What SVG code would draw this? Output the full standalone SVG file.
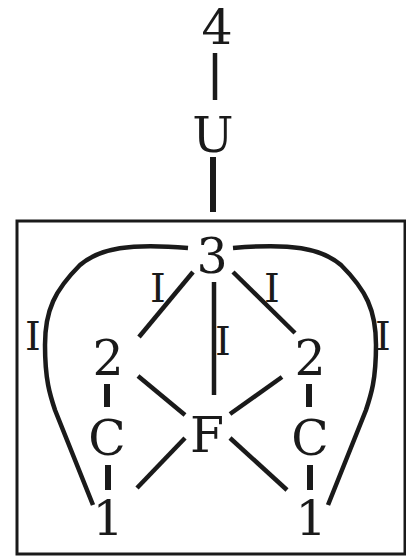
<svg xmlns="http://www.w3.org/2000/svg" width="406" height="556" viewBox="0 0 406 556">
<style>
.t{font-family:"DejaVu Serif","Liberation Serif",serif;font-size:49px;fill:#1a1a1a;text-anchor:middle}
.s{font-family:"DejaVu Serif","Liberation Serif",serif;font-size:40px;fill:#1a1a1a;text-anchor:middle}
.l{stroke:#1a1a1a;stroke-width:4.5;fill:none}
.k{stroke:#1a1a1a;stroke-width:6;fill:none}
</style>
<rect x="17" y="221" width="388" height="333" fill="none" stroke="#1a1a1a" stroke-width="3"/>
<g id="connectors">
<line class="l" x1="215" y1="53" x2="215" y2="100"/>
<line class="k" x1="213" y1="157" x2="213" y2="212"/>
<path class="l" d="M188,248 C130,243 100,248 80,265 C55,290 45,310 45,345 C45,380 50,395 55,410 L93,505"/>
<path class="l" d="M233,248 C291,243 321,248 341,265 C366,290 376,310 376,345 C376,380 371,395 366,410 L328,505"/>
<line class="l" x1="193" y1="272" x2="139" y2="337"/>
<line class="l" x1="233" y1="272" x2="295" y2="333"/>
<line class="l" x1="214" y1="282" x2="214" y2="395"/>
<line class="l" x1="138" y1="376" x2="185" y2="415"/>
<line class="l" x1="282" y1="377" x2="230" y2="414"/>
<line class="l" x1="185" y1="438" x2="137" y2="488"/>
<line class="l" x1="230" y1="438" x2="287" y2="490"/>
<line class="k" x1="107" y1="384" x2="107" y2="407"/>
<line class="k" x1="108" y1="465" x2="108" y2="490"/>
<line class="k" x1="309" y1="384" x2="309" y2="407"/>
<line class="k" x1="310" y1="465" x2="310" y2="490"/>
</g>
<g id="labels">
<text class="s" x="33" y="350">I</text>
<text class="s" x="383" y="350">I</text>
<text class="s" x="158" y="302">I</text>
<text class="s" x="272" y="302">I</text>
<text class="s" x="223" y="355">I</text>
</g>
<g id="n4"><text class="t" x="217" y="44">4</text></g>
<g id="nU"><text class="t" x="213" y="152">U</text></g>
<g id="n3"><text class="t" x="212" y="273">3</text></g>
<g id="n2L"><text class="t" x="108" y="375">2</text></g>
<g id="n2R"><text class="t" x="310" y="375">2</text></g>
<g id="nCL"><text class="t" x="107" y="455">C</text></g>
<g id="nF"><text class="t" x="207" y="452">F</text></g>
<g id="nCR"><text class="t" x="310" y="455">C</text></g>
<g id="n1L"><text class="t" x="108" y="535">1</text></g>
<g id="n1R"><text class="t" x="311" y="535">1</text></g>
</svg>
